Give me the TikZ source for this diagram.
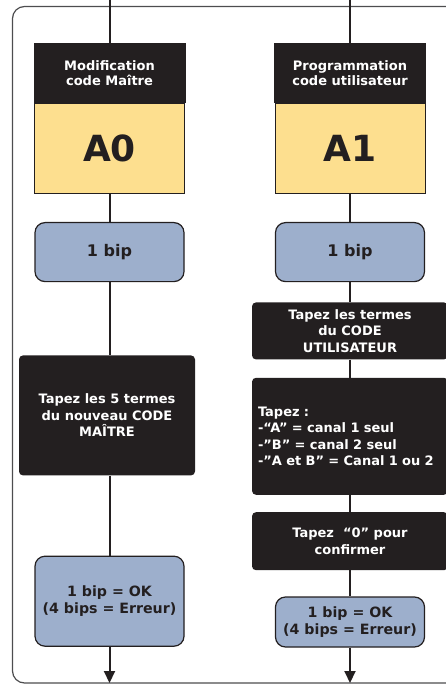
\documentclass[tikz,border=0pt]{standalone}
\usepackage{fontspec}
\setmainfont{DejaVu Sans}
\definecolor{c_dark}{HTML}{231F20}
\definecolor{c_yellow}{HTML}{FDDF8F}
\definecolor{c_blue}{HTML}{9DAFCC}
\definecolor{c_frame}{HTML}{4D4D4F}
\usepackage{tikz}
\usetikzlibrary{positioning,arrows.meta}

\begin{document}
\begin{tikzpicture}[
        x=1pt, y=1pt,
        every node/.style={inner sep=0pt, align=center},
        title/.style={fill=c_dark, text=white, minimum width=152pt, minimum height=60pt,
            font=\bfseries\fontsize{13}{15.5}\selectfont},
        code/.style={fill=c_yellow, draw=c_dark, line width=0.8pt, text=c_dark,
            minimum width=150pt, minimum height=90pt, font=\bfseries\fontsize{36}{40}\selectfont},
        beep/.style={fill=c_blue, draw=c_dark, line width=1.2pt, rounded corners=10pt,
            text=c_dark, minimum width=149pt, font=\bfseries\fontsize{14.2}{16.5}\selectfont},
        instr/.style={fill=c_dark, text=white, rounded corners=4pt, minimum width=196pt,
            font=\bfseries\fontsize{13}{16.5}\selectfont},
        link/.style={c_dark, line width=2pt},
        tip/.style={-{Triangle[length=12pt, width=11pt]}}
    ]
        \useasboundingbox (0,0) rectangle (446,-684);
        \draw[c_frame, line width=1.2pt, rounded corners=12pt] (12.5,-6.5) rectangle (470,-683);

        % colonne gauche : code maitre
        \node[title] (hdrA) at (109.5,-73) {Modification\\code Maître};
        \node[code] (codeA) [below=0pt of hdrA] {A0};
        \node[beep, minimum height=59pt, font=\bfseries\fontsize{16}{18}\selectfont] (bipA) [below=28pt of codeA] {1 bip};
        \node[instr, minimum width=176pt, minimum height=120pt] (tapA) [below=73pt of bipA, xshift=-2.5pt]
            {Tapez les 5 termes\\du nouveau CODE\\MAÎTRE};
        \node[beep, minimum height=90pt] (okA) [below=80pt of tapA, xshift=2.5pt] {1 bip = OK\\(4 bips = Erreur)};

        % colonne droite : code utilisateur
        \node[title] (hdrB) at (350,-73) {Programmation\\code utilisateur};
        \node[code] (codeB) [below=0pt of hdrB] {A1};
        \node[beep, minimum height=59pt, font=\bfseries\fontsize{16}{18}\selectfont] (bipB) [below=28pt of codeB] {1 bip};
        \node[instr, minimum height=57pt] (termB) [below=20pt of bipB] {Tapez les termes\\du CODE\\UTILISATEUR};
        \node[instr, minimum height=117pt, text width=184pt, align=left] (chanB) [below=18pt of termB]
            {Tapez :\\-“A” = canal 1 seul\\-”B” = canal 2 seul\\-”A et B” = Canal 1 ou 2};
        \node[instr, minimum height=58pt] (zeroB) [below=17pt of chanB] {Tapez\ \ “0” pour\\confirmer};
        \node[beep, minimum height=50pt] (okB) [below=26pt of zeroB] {1 bip = OK\\(4 bips = Erreur)};

        \coordinate (inA) at (hdrA.north |- 0,0);
        \coordinate (inB) at (hdrB.north |- 0,0);
        \coordinate (endA) at (okA.south |- 0,-683);
        \coordinate (endB) at (okB.south |- 0,-683);

        \draw[link] (inA) -- (hdrA);
        \draw[link] (codeA) -- (bipA);
        \draw[link] (bipA.south) -- (bipA.south |- tapA.north);
        \draw[link] (okA.north |- tapA.south) -- (okA.north);
        \draw[link, tip] (okA) -- (endA);

        \draw[link] (inB) -- (hdrB);
        \draw[link] (codeB) -- (bipB);
        \draw[link] (bipB) -- (termB);
        \draw[link] (termB) -- (chanB);
        \draw[link] (chanB) -- (zeroB);
        \draw[link] (zeroB) -- (okB);
        \draw[link, tip] (okB) -- (endB);
\end{tikzpicture}
\end{document}
